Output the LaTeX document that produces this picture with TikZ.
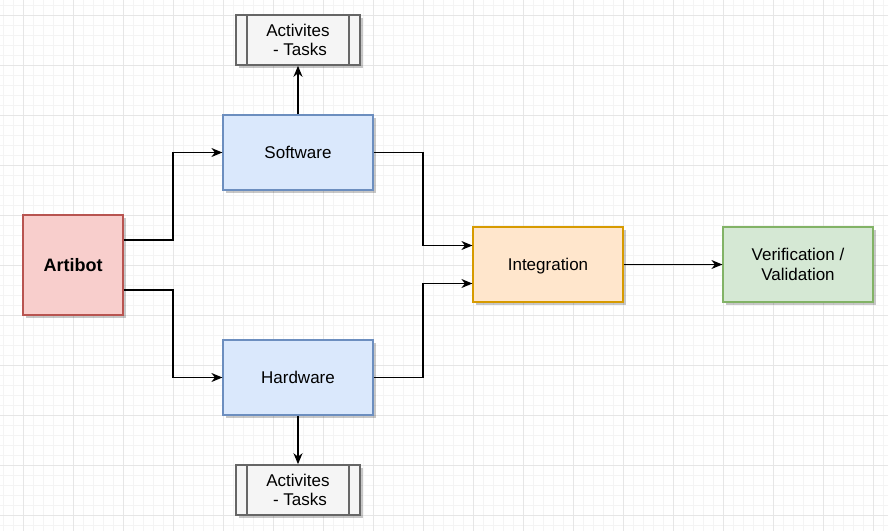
\documentclass[tikz,border=0pt]{standalone}
\usepackage{fontspec}
\setmainfont{Liberation Sans}
\usetikzlibrary{arrows.meta,shadows}
\definecolor{gridminor}{HTML}{F4F4F4}
\definecolor{gridmajor}{HTML}{E6E6E6}
\definecolor{redfill}{HTML}{F8CECC}
\definecolor{redline}{HTML}{B85450}
\definecolor{bluefill}{HTML}{DAE8FC}
\definecolor{blueline}{HTML}{6C8EBF}
\definecolor{orangefill}{HTML}{FFE6CC}
\definecolor{orangeline}{HTML}{D79B00}
\definecolor{greenfill}{HTML}{D5E8D4}
\definecolor{greenline}{HTML}{82B366}
\definecolor{grayfill}{HTML}{F5F5F5}
\definecolor{grayline}{HTML}{666666}
\tikzset{
  box/.style={draw, line width=1.2pt, minimum width=150pt, minimum height=75pt, inner sep=0pt,
    align=center, font=\fontsize{17}{19.5}\selectfont,
    drop shadow={shadow xshift=3pt, shadow yshift=-3pt, opacity=0.22, fill=black}},
  redbox/.style={box, fill=redfill, draw=redline, minimum width=100pt, minimum height=100pt,
    font=\fontsize{18}{21}\selectfont\bfseries},
  bluebox/.style={box, fill=bluefill, draw=blueline},
  orangebox/.style={box, fill=orangefill, draw=orangeline},
  greenbox/.style={box, fill=greenfill, draw=greenline},
  procbox/.style={box, fill=grayfill, draw=grayline, line width=1.6pt, minimum width=124pt, minimum height=50pt},
  conn/.style={line width=1.2pt, draw=black, -{Stealth[length=11pt,width=9pt,inset=3.5pt]}},
}
\begin{document}
\begin{tikzpicture}[x=1pt,y=-1pt]
\useasboundingbox (0,0) rectangle (888,531);
\fill[white] (0,0) rectangle (888,531);
\foreach \x in {3,13,...,883} \draw[gridminor, line width=0.8pt] (\x,0) -- (\x,531);
\foreach \y in {5,15,...,525} \draw[gridminor, line width=0.8pt] (0,\y) -- (888,\y);
\foreach \x in {23,73,...,873} \draw[gridmajor, line width=0.8pt] (\x,0) -- (\x,531);
\foreach \y in {15,65,...,515} \draw[gridmajor, line width=0.8pt] (0,\y) -- (888,\y);

\node[redbox] (art) at (73,265) {Artibot};
\node[bluebox] (sw) at (298,152.5) {Software};
\node[bluebox] (hw) at (298,377.5) {Hardware};
\node[orangebox, text depth=0pt] (int) at (548,264.5) {Integration};
\node[greenbox] (ver) at (798,264.5) {Verification /\\Validation};
\node[procbox] (acttop) at (298,40) {Activites\\\hspace*{4pt}- Tasks};
\node[procbox] (actbot) at (298,490) {Activites\\\hspace*{4pt}- Tasks};
\foreach \n in {acttop,actbot} {
  \draw[grayline, line width=1.6pt] ([xshift=12pt]\n.north west) -- ([xshift=12pt]\n.south west);
  \draw[grayline, line width=1.6pt] ([xshift=-12pt]\n.north east) -- ([xshift=-12pt]\n.south east);
}

\draw[conn] ([yshift=25pt]art.east) -| (173,200) |- (sw.west);
\draw[conn] ([yshift=-25pt]art.east) -| (173,330) |- (hw.west);
\draw[conn] (sw.east) -| (423,200) |- ([yshift=19pt]int.west);
\draw[conn] (hw.east) -| (423,330) |- ([yshift=-19pt]int.west);
\draw[conn] (int.east) -- (ver.west);
\draw[conn] (sw.north) -- (acttop.south);
\draw[conn] (hw.south) -- (actbot.north);
\end{tikzpicture}
\end{document}
